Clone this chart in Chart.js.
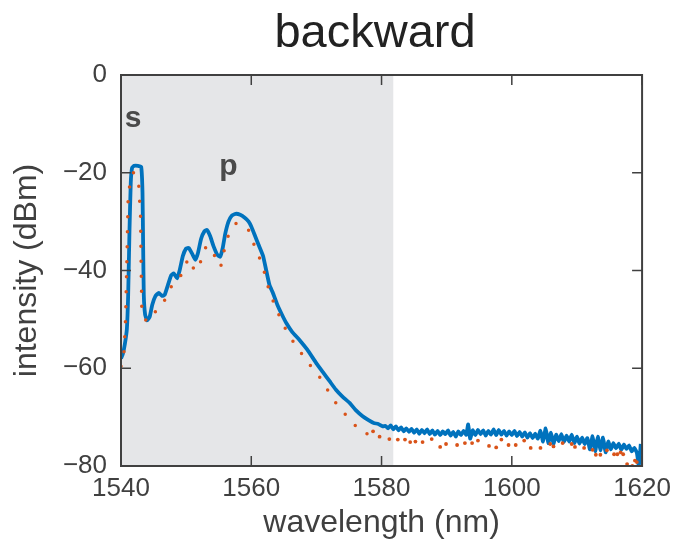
<!DOCTYPE html>
<html>
<head>
<meta charset="utf-8">
<script src="https://cdn.jsdelivr.net/npm/chart.js@4.4.1/dist/chart.umd.min.js"></script>
<style>
  html, body { margin: 0; padding: 0; background: #fff; }
  #wrap { width: 678px; height: 543px; }
</style>
</head>
<body>
<div id="wrap"><canvas id="chart" width="678" height="543"></canvas></div>
<script>
// Données
const blueX = [1540.0,1540.3,1540.6,1540.9,1541.1,1541.3,1541.5,1541.7,1542.0,1542.6,1543.1,1543.3,1543.4,1543.5,1543.7,1544.0,1544.4,1544.8,1545.3,1545.8,1546.3,1546.7,1547.2,1547.7,1548.1,1548.6,1549.0,1549.5,1550.0,1550.4,1550.9,1551.4,1551.8,1552.3,1552.8,1553.2,1553.7,1554.2,1554.8,1555.2,1555.6,1556.0,1556.5,1557.0,1557.6,1558.3,1559.0,1559.6,1560.0,1560.6,1561.2,1561.8,1562.3,1562.8,1563.3,1564.0,1564.7,1565.4,1566.3,1567.4,1568.6,1570.0,1571.0,1572.0,1573.0,1574.0,1575.1,1576.0,1577.1,1578.0,1578.8,1579.5,1580.2,
  1580.6,1581.0,1581.4,1581.8,1582.2,1582.6,1583.0,1583.4,1583.8,1584.2,1584.6,1585.0,1585.4,1585.8,1586.2,1586.6,1587.0,1587.4,1587.8,1588.2,1588.6,1589.0,1589.4,1589.8,1590.2,1590.6,1591.0,1591.4,1591.8,1592.2,1592.6,1593.0,
  1593.3,1593.6,
  1594.0,1594.4,1594.8,1595.2,1595.6,1596.0,1596.4,1596.8,1597.2,1597.6,
  1598.0,1598.4,1598.8,1599.2,1599.6,1600.0,1600.4,1600.8,1601.2,1601.6,
  1602.0,1602.4,1602.8,1603.2,1603.6,1604.0,1604.4,1604.8,1605.2,1605.6,
  1606.0,1606.4,1606.8,1607.2,1607.6,1608.0,1608.4,1608.8,1609.2,1609.6,
  1610.0,1610.4,1610.8,1611.2,1611.6,1612.0,1612.4,1612.8,1613.2,1613.6,
  1614.0,1614.4,1614.8,1615.2,1615.6,1616.0,1616.4,1616.8,1617.2,1617.6,
  1618.0,1618.4,1618.8,1619.2,
  1619.5,1619.8];
const blueY = [-58,-57,-55,-52,-45,-32,-22,-19,-18.6,-18.6,-18.8,-24,-35,-45,-49,-50.2,-49.5,-47,-45.2,-44.6,-45.2,-45,-43,-41,-40.6,-41.6,-40,-37,-35.5,-35.4,-36.5,-37.8,-36.5,-33.5,-32,-31.7,-33,-35,-36.8,-37.2,-35.5,-32.5,-30,-28.8,-28.4,-28.6,-29.2,-30,-31,-33,-35,-37,-40,-43,-44.5,-47,-49,-50.8,-52.6,-54.2,-56.2,-59,-60.8,-62.6,-64.4,-65.8,-67.1,-68.5,-69.8,-70.6,-71.2,-71.4,-71.9,
  -71.8,-72.3,-71.7,-72.5,-71.9,-72.7,-72.1,-72.9,-72.3,-73.0,-72.4,-73.2,-72.5,-73.4,-72.6,-73.3,-72.5,-73.5,-72.7,-73.6,-72.8,-73.7,-72.9,-73.5,-72.7,-73.8,-73.0,-74.0,-72.9,-73.7,-72.8,-73.6,
  -71.5,-74.4,
  -72.7,-73.7,-72.6,-73.5,-72.7,-73.8,-72.8,-73.6,-72.5,-73.7,
  -72.6,-73.6,-72.8,-73.8,-72.9,-73.7,-72.8,-73.9,-73.0,-74.0,
  -73.1,-74.2,-73.3,-74.3,-73.4,-74.4,-72.8,-75.0,-72.3,-75.3,
  -73.2,-75.4,-73.6,-74.9,-73.5,-75.1,-73.8,-75.0,-73.6,-75.3,
  -74.0,-75.4,-74.2,-75.5,-74.3,-76.6,-73.9,-77.0,-74.0,-76.8,
  -74.2,-77.2,-75.0,-76.6,-75.3,-76.4,-75.4,-76.7,-75.6,-76.5,
  -75.8,-77.0,-76.3,-77.3,
  -80.0,-75.5];

const orangeX = [1540.0,1540.4,1540.7,1540.9,1541.1,1541.5,1541.9,1542.3,1542.7,1543.0,1543.1,1543.2,1543.6,1544.3,1545.0,1545.7,1546.5,1547.3,1548.0,1548.5,1549.5,1550.3,1550.9,1551.4,1552.3,1553.1,1553.7,1554.4,1555.3,1555.8,1556.5,1557.7,1558.7,1559.7,1560.5,1561.5,1562.2,1562.8,1563.8,1564.7,1565.9,1567.3,1568.8,1570.4,1571.7,1573.0,1574.6,1576.1,1577.6,1578.7,1579.7,1581.2,1582.5,1583.6,1584.4,1585.2,1586.3,1587.7,1589.0,1589.9,1591.6,1592.8,1593.9,1594.8,1596.5,1597.6,1598.4,1599.5,1600.6,1601.9,1602.9,1604.4,1605.9,1606.4,1607.8,1609.2,1609.7,1611.1,1612.4,1612.9,1613.6,1614.6,1615.7,1616.2,1616.7,1617.1,1617.7,1618.5,1618.9,1619.2];
const orangeY = [-59.6,-58,-50,-38,-25,-21,-20,-20.5,-22,-29,-40,-48.5,-50,-50.4,-49,-47.6,-46.6,-44.5,-42.5,-41.9,-40.6,-37.5,-39,-40.2,-38,-34.9,-35.8,-37,-39.3,-36.1,-32.7,-30.3,-30.8,-31.9,-35,-38.2,-41.2,-44.5,-47.6,-50.6,-53.5,-56.2,-59,-61.6,-64.4,-67.1,-69.7,-71.9,-73.5,-72.9,-74.0,-74.5,-74.6,-74.6,-75.1,-75.0,-75.1,-74.5,-76.1,-75.5,-75.7,-75.3,-75.3,-74.8,-75.9,-76.2,-74.6,-75.7,-75.7,-74.8,-76.3,-76.3,-75.5,-76.0,-75.3,-75.5,-76.1,-76.3,-76.7,-77.7,-77.7,-76.8,-77.6,-77.6,-77.2,-77.6,-79.6,-80.0,-78.9,-79.2];

const xTicks = [1540, 1560, 1580, 1600, 1620];
const yTicks = [-80, -60, -40, -20, 0];
const shadeRange = [1540, 1581.8];
const dotsFrom = 1578.6; // au-delà : points isolés
const peakLabels = [
  { text: 's', x: 1541.85, y: -10.6 },
  { text: 'p', x: 1556.5, y: -20.4 }
];

const FONT = '"Liberation Sans", Arial, Helvetica, sans-serif';
const AXIS = '#404040';
const ORANGE = '#D95319';

function toPoints(xs, ys) {
  return xs.map((x, i) => ({ x, y: ys[i] }));
}

// Zone grisée + lettres s / p + titre
const shadePlugin = {
  id: 'shade',
  beforeDatasetsDraw(chart) {
    const { ctx, chartArea: a, scales: { x } } = chart;
    const x0 = x.getPixelForValue(shadeRange[0]);
    const x1 = x.getPixelForValue(shadeRange[1]);
    ctx.save();
    ctx.fillStyle = '#e5e6e8';
    ctx.fillRect(x0, a.top, x1 - x0, a.bottom - a.top);
    ctx.restore();
  },
  afterDatasetsDraw(chart) {
    const { ctx, scales: { x, y } } = chart;
    ctx.save();
    ctx.fillStyle = '#4a4a4a';
    ctx.font = 'bold 30px ' + FONT;
    ctx.textAlign = 'center';
    ctx.textBaseline = 'alphabetic';
    peakLabels.forEach(l => ctx.fillText(l.text, x.getPixelForValue(l.x), y.getPixelForValue(l.y)));
    ctx.fillStyle = '#222';
    ctx.font = '47px ' + FONT;
    ctx.fillText('backward', 375, 47);
    ctx.restore();
  }
};

// Cadre + graduations vers l'intérieur
const boxPlugin = {
  id: 'box',
  afterDraw(chart) {
    const { ctx, chartArea: a, scales: { x, y } } = chart;
    ctx.save();
    ctx.strokeStyle = AXIS;
    ctx.lineWidth = 1.5;
    ctx.beginPath();
    xTicks.forEach(v => {
      const px = x.getPixelForValue(v);
      ctx.moveTo(px, a.bottom); ctx.lineTo(px, a.bottom - 10);
      ctx.moveTo(px, a.top); ctx.lineTo(px, a.top + 10);
    });
    yTicks.forEach(v => {
      const py = y.getPixelForValue(v);
      ctx.moveTo(a.left, py); ctx.lineTo(a.left + 10, py);
      ctx.moveTo(a.right, py); ctx.lineTo(a.right - 10, py);
    });
    ctx.stroke();
    ctx.lineWidth = 2;
    ctx.strokeRect(a.left, a.top, a.right - a.left, a.bottom - a.top);
    ctx.restore();
  }
};

const minus = v => String(v).replace('-', '\u2212');

new Chart(document.getElementById('chart'), {
  type: 'line',
  data: {
    datasets: [
      {
        data: toPoints(orangeX, orangeY),
        borderColor: ORANGE,
        borderWidth: 3.5,
        borderDash: [0, 15],
        borderCapStyle: 'round',
        segment: {
          borderColor: c => (c.p0.parsed.x >= dotsFrom ? 'rgba(0,0,0,0)' : undefined)
        },
        pointRadius: c => (c.raw && c.raw.x >= dotsFrom ? 1.9 : 0),
        pointBackgroundColor: ORANGE,
        pointBorderWidth: 0,
        tension: 0
      },
      {
        data: toPoints(blueX, blueY),
        borderColor: '#0072BD',
        borderWidth: 3.8,
        pointRadius: 0,
        tension: 0.15
      }
    ]
  },
  options: {
    responsive: false,
    devicePixelRatio: 1,
    animation: false,
    layout: { padding: { left: 0, right: 35, top: 75, bottom: 0 } },
    plugins: {
      legend: { display: false },
      tooltip: { enabled: false },
      title: { display: false }
    },
    scales: {
      x: {
        type: 'linear',
        min: 1540,
        max: 1620,
        afterFit: s => { s.height = 77; },
        afterBuildTicks: s => { s.ticks = xTicks.map(v => ({ value: v })); },
        grid: { display: false, drawTicks: false },
        border: { display: false },
        ticks: {
          color: AXIS,
          font: { family: FONT, size: 26 },
          padding: 7,
          maxRotation: 0,
          autoSkip: false,
          callback: v => minus(v)
        },
        title: {
          display: true,
          text: 'wavelength (nm)',
          color: AXIS,
          font: { family: FONT, size: 32 },
          padding: { top: 0, bottom: 1 }
        }
      },
      y: {
        min: -80,
        max: 0,
        afterFit: s => { s.width = 121; },
        afterBuildTicks: s => { s.ticks = yTicks.map(v => ({ value: v })); },
        grid: { display: false, drawTicks: false },
        border: { display: false },
        ticks: {
          color: AXIS,
          font: { family: FONT, size: 26 },
          padding: 14,
          autoSkip: false,
          callback: v => minus(v)
        },
        title: {
          display: true,
          text: 'intensity (dBm)',
          color: AXIS,
          font: { family: FONT, size: 32 },
          padding: { top: 8, bottom: 0 }
        }
      }
    }
  },
  plugins: [shadePlugin, boxPlugin]
});
</script>
</body>
</html>
